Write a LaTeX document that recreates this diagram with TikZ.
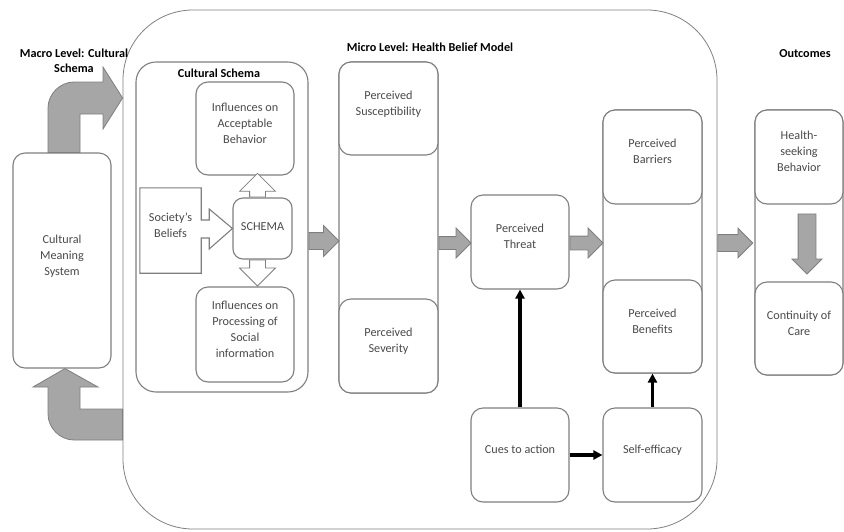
\documentclass[tikz,border=0pt]{standalone}
\usepackage{fontspec}
\setmainfont{Carlito}
\usetikzlibrary{shapes.arrows,arrows.meta,calc}
\definecolor{boxline}{HTML}{7F7F7F}
\definecolor{boxtext}{HTML}{4A4A4A}
\definecolor{arrowfill}{HTML}{A6A6A6}

\begin{document}
\begin{tikzpicture}[x=1pt, y=-1pt,
  main node/.style={rectangle, rounded corners=12, draw=boxline, line width=1.1pt, fill=white, text=boxtext, align=center, inner sep=2pt, text depth=11pt},
  title node/.style={font=\fontsize{12.2}{15}\selectfont\bfseries, align=center},
  gray arrow/.style={single arrow, draw=boxline, fill=arrowfill, line width=0.8pt, single arrow tip angle=90, anchor=tail},
  white arrow/.style={gray arrow, fill=white},
  gray shape/.style={draw=boxline, fill=arrowfill, line width=0.8pt},
  black arrow/.style={-{Triangle[length=9pt, width=9pt]}, line width=3.2pt, black}]
        \tikzstyle{every node}=[font=\fontsize{12.2}{16}\selectfont]

          \useasboundingbox (0,0) rectangle (844,531);

          \node[draw=boxline, line width=0.8pt, rounded corners=70, minimum width=594, minimum height=519] (3) at (420,269.5) {};
          \node[main node, minimum width=98, minimum height=215] (1) at (62,260.5) {Cultural\\Meaning\\System};
          \node[title node] (2) at (74,60.5) {Macro Level: Cultural\\Schema};
          \node[title node] (4) at (430,47) {Micro Level: Health Belief Model};
          \node[title node] (5) at (805,54) {Outcomes};

          \node[main node, rounded corners=20, minimum width=172, minimum height=330] (6) at (222,227) {};
          \node[title node] (7) at (219,73) {Cultural Schema};
          \node[main node, minimum width=98, minimum height=93] (8) at (245,128.5) {Influences on\\Acceptable\\Behavior};
          \node[main node, rounded corners=10, minimum width=59, minimum height=61, text depth=3pt] (9) at (262.5,228.5) {SCHEMA};
          \node[main node, minimum width=98, minimum height=95] (10) at (245,334.5) {Influences on\\Processing of\\Social\\information};
          \node[align=center, minimum width=61, minimum height=85] (11) at (170.5,230.5) {};

          \node[main node, minimum width=99, minimum height=331] (12) at (388.5,227.5) {};
          \node[main node, minimum width=99, minimum height=93] (13) at (388.5,108.5) {Perceived\\Susceptibility};
          \node[main node, minimum width=99, minimum height=94] (14) at (388.5,346) {Perceived\\Severity};
          \node[main node, minimum width=98, minimum height=94] (15) at (520,242) {Perceived\\Threat};

          \node[main node, minimum width=99, minimum height=263] (16) at (652.5,241.5) {};
          \node[main node, minimum width=99, minimum height=94] (17) at (652.5,157) {Perceived\\Barriers};
          \node[main node, minimum width=99, minimum height=93] (18) at (652.5,326.5) {Perceived\\Benefits};
          \node[main node, minimum width=98, minimum height=94] (19) at (520,455) {Cues to action};
          \node[main node, minimum width=99, minimum height=94] (20) at (652.5,455) {Self-efficacy};

          \node[main node, minimum width=88, minimum height=265] (21) at (799,242.5) {};
          \node[main node, minimum width=88, minimum height=94] (22) at (799,157) {Health-\\seeking\\Behavior};
          \node[main node, minimum width=88, minimum height=93] (23) at (799,328.5) {Continuity of\\Care};

          \draw[gray shape] ($(1.north)+(-14,0)$) -- (48,108) .. controls (48,94) and (60,82) .. (74,82)
            -- (103,82) -- (103,67) -- (3.west |- 0,98) -- (103,129) -- (103,114) -- (80,114) -- ($(1.north)+(18,0)$) -- cycle;
          \draw[gray shape] (3.west |- 0,409) -- (80,409) -- (80,387) -- (98,387) -- ($(1.south)+(3,0)$) -- (33,387) -- (48,387)
            -- (48,414) .. controls (48,428) and (60,440) .. (74,440) -- (3.west |- 0,440) -- cycle;

          \draw[boxline, line width=1.1pt, fill=white] (11.north west) -- (11.north east) -- ($(11.east)+(0,-10.5)$) -- ++(8,0) -- ++(0,-11)
            -- (9.west) -- ($(11.east)+(8,18.5)$) -- ++(0,-11) -- ($(11.east)+(0,7.5)$) -- (11.south east) -- (11.south west) -- cycle;
          \node[text=boxtext, align=center, text depth=11pt] at (11) {Society’s\\Beliefs};

          \node[white arrow, shape border rotate=90, inner sep=7.5pt, single arrow head extend=10pt, minimum height=23] (29) at ($(9.north)+(-5,0)$) {};
          \node[white arrow, shape border rotate=270, inner sep=7.5pt, single arrow head extend=10pt, minimum height=26] (30) at ($(9.south)+(-5,0)$) {};

          \node[gray arrow, inner sep=8pt, single arrow head extend=7pt, minimum height=30] (24) at ($(6.east)+(0,14)$) {};
          \node[gray arrow, inner sep=6pt, single arrow head extend=8.5pt, minimum height=32] (25) at ($(12.east)+(0,15.5)$) {};
          \node[gray arrow, inner sep=6.5pt, single arrow head extend=8pt, minimum height=33] (26) at ($(15.east)+(0,1)$) {};
          \node[gray arrow, inner sep=8pt, single arrow head extend=6.5pt, minimum height=35] (27) at ($(3.east)+(0,-26.5)$) {};
          \node[gray arrow, shape border rotate=270, inner sep=8.5pt, single arrow head extend=6pt, minimum height=60] (28) at ($(22.south)+(8,9)$) {};

          \path[black arrow]
            (19) edge (15)
            (19) edge (20)
            (20) edge (18);

        \end{tikzpicture}
\end{document}
